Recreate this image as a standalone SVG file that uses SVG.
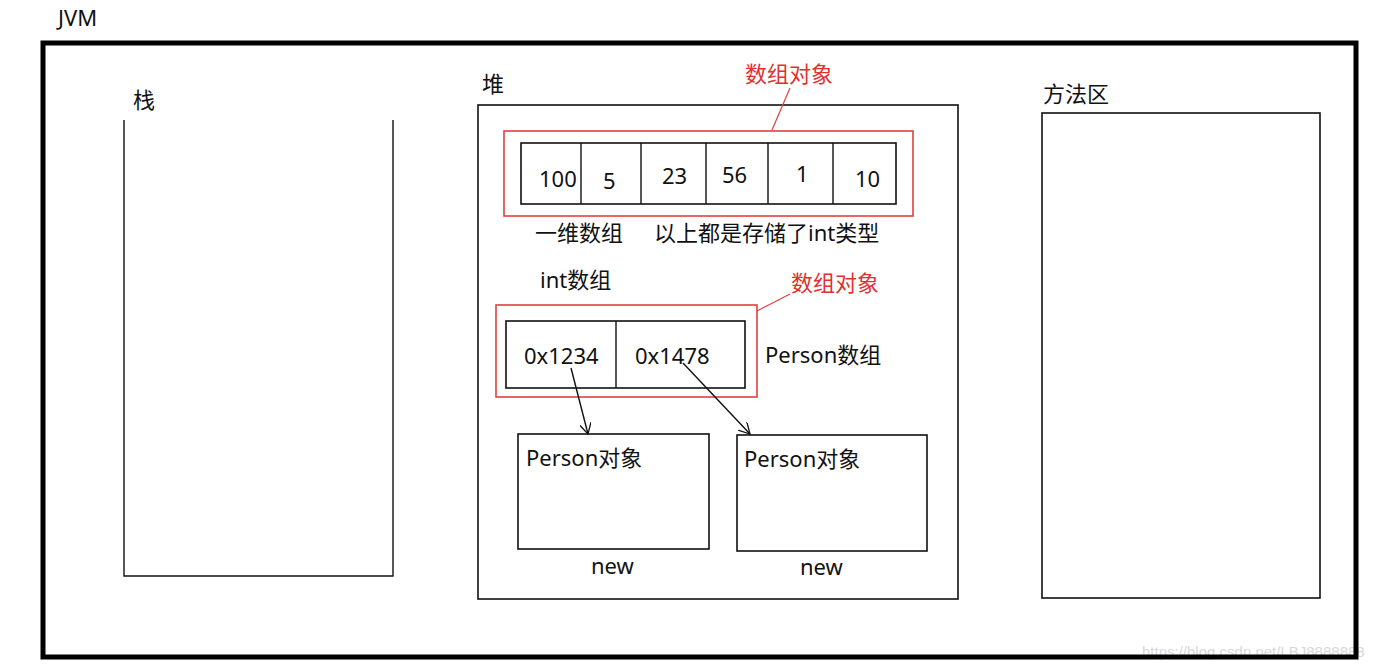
<svg xmlns="http://www.w3.org/2000/svg" width="1387" height="670" viewBox="0 0 1387 670">
<defs>
<style>
text{font-family:"Noto Sans","Noto Sans CJK SC",sans-serif;font-size:22px;fill:#111;}
.red{fill:#e03030;}
.box{fill:none;stroke:#111;stroke-width:1.6;}
.rbox{fill:none;stroke:#e04040;stroke-width:1.6;}
.ln{stroke:#111;stroke-width:1.4;fill:none;}
.wm{font-family:"Liberation Sans",sans-serif;font-size:15px;fill:#d8d8d8;}
</style>
<marker id="arr" viewBox="0 0 12 12" refX="11" refY="6" markerWidth="12" markerHeight="12" markerUnits="userSpaceOnUse" orient="auto">
<path d="M0,0 L11,6 L0,12" fill="none" stroke="#111" stroke-width="1.3"/>
</marker>
</defs>
<rect width="1387" height="670" fill="#fff"/>
<text class="wm" x="1142" y="657">https://blog.csdn.net/LBJ8888888</text>
<g id="jvm">
<text x="58" y="26">JVM</text>
<rect x="43" y="43" width="1313" height="614" fill="none" stroke="#000" stroke-width="5"/>
</g>
<g id="stack">
<text x="133" y="108">栈</text>
<path class="ln" d="M124,120 V576 H393 V120"/>
</g>
<g id="heap">
<text x="482" y="92">堆</text>
<rect class="box" x="478" y="105" width="480" height="494"/>
</g>
<g id="method-area">
<text x="1043" y="102">方法区</text>
<rect class="box" x="1042" y="113" width="278" height="485"/>
</g>
<g id="int-array">
<rect class="rbox" x="504" y="131" width="409" height="85"/>
<rect class="box" x="521" y="143" width="375" height="61"/>
<path class="ln" d="M581,143 V204 M641,143 V204 M706,143 V204 M768,143 V204 M833,143 V204"/>
<text x="539" y="187">100</text>
<text x="603" y="189">5</text>
<text x="662" y="184">23</text>
<text x="722" y="183">56</text>
<text x="796" y="182">1</text>
<text x="855" y="187">10</text>
<text class="red" x="745" y="82">数组对象</text>
<text x="535" y="241">一维数组</text>
<text x="654" y="241">以上都是存储了int类型</text>
<text x="540" y="288">int数组</text>
</g>
<g id="person-array">
<rect class="rbox" x="496" y="305" width="261" height="92"/>
<rect class="box" x="506" y="321" width="239" height="67"/>
<path class="ln" d="M616,321 V388"/>
<text x="524" y="364">0x1234</text>
<text x="635" y="364">0x1478</text>
<text class="red" x="791" y="291">数组对象</text>
<text x="765" y="363">Person数组</text>
</g>
<g id="person1">
<rect class="box" x="518" y="434" width="191" height="115"/>
<text x="526" y="466">Person对象</text>
<text x="591" y="574">new</text>
</g>
<g id="person2">
<rect class="box" x="737" y="435" width="190" height="116"/>
<text x="744" y="467">Person对象</text>
<text x="800" y="575">new</text>
</g>
<g id="connectors">
<path d="M772,130 L790,88" stroke="#e04040" stroke-width="1.2" fill="none"/>
<path d="M757,311 L790,294" stroke="#e04040" stroke-width="1.2" fill="none"/>
<path class="ln" d="M571,368 L588,434" marker-end="url(#arr)"/>
<path class="ln" d="M683,363 L750,434" marker-end="url(#arr)"/>
</g>
</svg>
